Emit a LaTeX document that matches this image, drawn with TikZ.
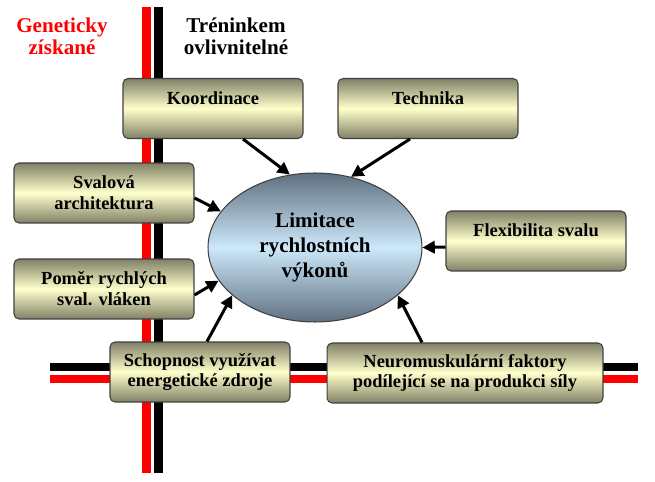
\documentclass[tikz,border=0pt]{standalone}
\usepackage{fontspec}
\setmainfont{LiberationSerif}[Extension=.ttf, UprightFont=*-Regular, BoldFont=*-Bold, ItalicFont=*-Italic, BoldItalicFont=*-BoldItalic]
\usetikzlibrary{arrows.meta, shapes.geometric}

\definecolor{boxdark}{RGB}{128,128,102}
\definecolor{boxlight}{RGB}{255,255,204}
\definecolor{elldark}{RGB}{95,112,128}
\definecolor{elllight}{RGB}{204,232,250}
\definecolor{barred}{RGB}{255,0,0}

\begin{document}
\begin{tikzpicture}[x=0.02cm, y=-0.02cm]
		\tikzset{factor/.style = {draw=black!75, line width=0.6pt, rounded corners=0.1cm,
				top color=boxdark, bottom color=boxdark, middle color=boxlight,
				minimum width=3.6cm, minimum height=1.2cm, inner sep=0pt, align=center,
				font=\bfseries\fontsize{10.5}{11.9}\selectfont}}
		\tikzset{limit/.style = {ellipse, draw=black!75, line width=0.6pt,
				top color=elldark, bottom color=elldark, middle color=elllight,
				minimum width=4.28cm, minimum height=2.98cm, inner sep=0pt, align=center,
				font=\bfseries\fontsize{12}{14}\selectfont}}
		\tikzset{heading/.style = {align=center, font=\bfseries\fontsize{12}{12.6}\selectfont}}
		\tikzset{bar/.style = {line width=0.18cm}}
		\tikzset{infl/.style = {line width=1.7pt, -{Triangle[length=7pt, width=7pt]}}}

		\useasboundingbox (0,0) rectangle (655,482);

		\draw[bar, barred] (146.5,7)--(146.5,473);
		\draw[bar, black] (158.5,7)--(158.5,473);
		\draw[bar, black] (50,367)--(638,367);
		\draw[bar, barred] (50,379)--(638,379);

		\node[heading, text=barred] (gen) at (62,36) {Geneticky\\získané};
		\node[heading] (tren) at (236,36) {Tréninkem\\ovlivnitelné};

		\node[limit] (lim) at (315,247.5) {Limitace\\rychlostních\\výkonů};

		\node[factor] (koord) at (213,108.5) {Koordinace\\~};
		\node[factor] (tech) at (428,108.5) {Technika\\~};
		\node[factor] (sval) at (104,193) {Svalová\\architektura};
		\node[factor] (pomer) at (104,289) {Poměr rychlých\\sval. vláken};
		\node[factor] (flex) at (536,241) {Flexibilita svalu\\~};
		\node[factor] (schop) at (200,372) {Schopnost využívat\\energetické zdroje};
		\node[factor, minimum width=5.52cm] (neuro) at (465,373) {Neuromuskulární faktory\\podílející se na produkci síly};

		\draw[infl] ([xshift=0.6cm]koord.south)--(lim.109);
		\draw[infl] ([xshift=-0.36cm]tech.south)--(lim.63);
		\draw[infl] ([yshift=-0.1cm]sval.east)--(lim.159);
		\draw[infl] ([yshift=-0.12cm]pomer.east)--(lim.199);
		\draw[infl] ([yshift=-0.12cm]flex.west)--(lim.0);
		\draw[infl] ([xshift=0.14cm]schop.north)--(lim.210);
		\draw[infl] ([xshift=-0.86cm]neuro.north)--(lim.330);

	\end{tikzpicture}
\end{document}
